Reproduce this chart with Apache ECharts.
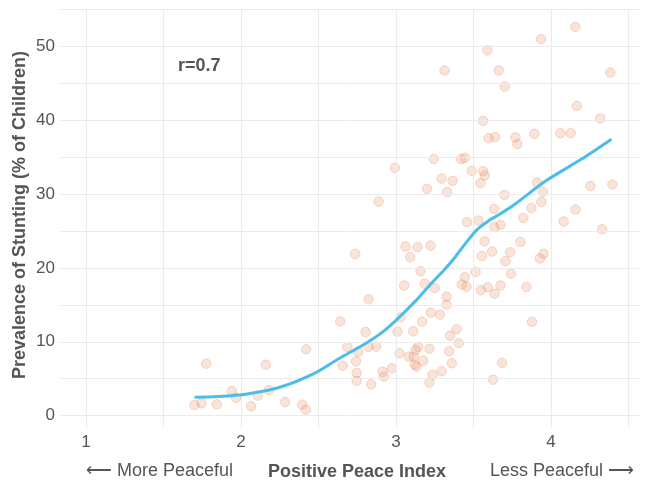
<!DOCTYPE html>
<html lang="en">
<head>
    <meta charset="UTF-8">
    <title>Positive Peace vs Stunting</title>
    <script src="https://cdn.jsdelivr.net/npm/echarts@6/dist/echarts.min.js"></script>
    <style>
        html, body { margin: 0; padding: 0; background: #fff; }
        #chart { width: 648px; height: 485px; }
    </style>
</head>
<body>
    <div id="chart"></div>
    <script>
        // country points: [Positive Peace Index, stunting %]
        var peaceIndex = [
            1.70, 1.745, 1.775, 1.844, 1.94, 1.968, 2.065, 2.108, 2.16, 2.18, 2.284, 2.394, 2.418, 2.42, 2.64,
            3.158, 3.513, 3.444, 3.425, 3.455, 3.547, 3.592, 3.053, 3.186, 3.25, 3.326, 3.326, 2.823, 3.03, 3.225,
            3.283, 3.169, 2.804, 3.01, 3.111, 3.39, 3.349, 3.405, 2.686, 2.755, 2.823, 2.872, 3.023, 3.143, 3.126,
            3.216, 3.083, 3.115, 3.175, 3.343, 3.36, 2.656, 2.742, 2.746, 2.746, 2.84, 2.914, 2.922, 2.974, 3.12,
            3.133, 3.236, 3.216, 3.294, 3.684, 3.626,
            3.062, 3.139, 3.223, 2.737, 3.092, 3.555, 3.62, 3.571, 3.803, 3.736, 3.706, 3.742, 3.841, 3.878,
            3.674, 3.637, 3.929, 3.951,
            2.993, 2.888, 3.244, 3.42, 3.444, 3.489, 3.562, 3.573, 3.545, 3.294, 3.365, 3.2, 3.33, 3.459, 3.532,
            3.313, 3.59, 3.663, 3.936, 4.157, 4.383, 3.702, 4.166, 4.318, 3.562, 3.597, 3.639, 3.771, 3.783,
            3.893, 4.06, 4.127, 3.70, 3.91, 3.948, 3.938, 3.874, 3.633, 3.822, 3.674, 3.635, 4.082, 4.159,
            4.254, 4.396, 4.331
        ];
        var stunting = [
            1.45, 1.68, 7.04, 1.54, 3.34, 2.44, 1.27, 2.71, 6.9, 3.48, 1.85, 1.49, 0.81, 8.98, 12.75,
            19.54, 19.45, 18.73, 17.73, 17.46, 16.97, 17.37, 17.6, 17.86, 17.24, 16.1, 15.02, 15.75, 13.31, 13.94,
            13.67, 12.72, 11.33, 11.37, 11.42, 11.69, 10.83, 9.8, 9.3, 8.66, 9.3, 9.34, 8.44, 9.3, 8.89,
            9.07, 7.98, 7.98, 7.44, 8.71, 7.09, 6.77, 7.36, 5.78, 4.7, 4.25, 5.95, 5.28, 6.41, 6.9,
            6.63, 5.55, 4.47, 6.01, 7.13, 4.87,
            22.87, 22.79, 23.0, 21.88, 21.43, 21.6, 22.2, 23.6, 23.5, 22.1, 20.9, 19.2, 17.4, 12.7,
            17.6, 16.5, 21.25, 21.9,
            33.52, 28.96, 34.7, 34.7, 34.87, 33.1, 33.07, 32.5, 31.45, 32.07, 31.76, 30.68, 30.23, 26.17, 26.39,
            46.69, 49.4, 46.69, 50.93, 52.6, 46.4, 44.52, 41.9, 40.2, 39.88, 37.54, 37.67, 37.62, 36.72,
            38.12, 38.21, 38.21, 29.86, 31.53, 30.3, 28.9, 28.1, 27.97, 26.75, 25.8, 25.5, 26.25, 27.88,
            31.08, 31.26, 25.22
        ];

        // smoothed trend line
        var fitX = [1.70, 1.85, 2.04, 2.25, 2.47, 2.63, 2.79, 2.90, 3.00, 3.13, 3.22, 3.31, 3.38, 3.43, 3.52, 3.60, 3.65, 3.76, 3.97, 4.19, 4.39];
        var fitY = [2.5, 2.6, 2.95, 3.85, 5.7, 7.7, 9.6, 11.1, 12.9, 15.6, 17.7, 19.7, 21.4, 22.8, 25.1, 26.4, 27.0, 28.5, 31.8, 34.6, 37.4];

        var xTicks = [1, 2, 3, 4];
        var yTicks = [0, 10, 20, 30, 40, 50];
        var xGrid = [1, 1.5, 2, 2.5, 3, 3.5, 4, 4.5];
        var yGrid = [0, 5, 10, 15, 20, 25, 30, 35, 40, 45, 50, 55];

        var points = peaceIndex.map(function (x, i) { return [x, stunting[i]]; });
        var fit = fitX.map(function (x, i) { return [x, fitY[i]]; });

        var gridLines = xGrid.map(function (v) { return { xAxis: v }; })
            .concat(yGrid.map(function (v) { return { yAxis: v }; }));

        var font = '"Liberation Sans", Arial, sans-serif';
        var textColor = '#555';

        var chart = echarts.init(document.getElementById('chart'));
        chart.setOption({
            animation: false,
            grid: { left: 60, right: 9, top: 9, bottom: 57 },
            xAxis: {
                type: 'value',
                min: 0.832,
                max: 4.568,
                axisLine: { show: false },
                axisTick: { show: false },
                splitLine: { show: false },
                axisLabel: {
                    customValues: xTicks,
                    color: textColor,
                    fontSize: 17,
                    fontFamily: font,
                    margin: 6
                }
            },
            yAxis: {
                type: 'value',
                min: -1.66,
                max: 55,
                axisLine: { show: false },
                axisTick: { show: false },
                splitLine: { show: false },
                axisLabel: {
                    customValues: yTicks,
                    color: textColor,
                    fontSize: 17,
                    fontFamily: font,
                    margin: 5
                }
            },
            series: [{
                // background grid
                type: 'scatter',
                data: [],
                z: 1,
                silent: true,
                markLine: {
                    silent: true,
                    symbol: ['none', 'none'],
                    label: { show: false },
                    lineStyle: { color: '#ebebeb', width: 1, type: 'solid' },
                    emphasis: { disabled: true },
                    data: gridLines
                }
            }, {
                type: 'scatter',
                data: points,
                z: 3,
                symbolSize: 9.5,
                itemStyle: {
                    color: 'rgba(228,136,88,0.28)',
                    borderColor: 'rgba(228,136,88,0.38)',
                    borderWidth: 1
                }
            }, {
                type: 'line',
                data: fit,
                z: 10,
                smooth: 0.3,
                showSymbol: false,
                symbol: 'none',
                silent: true,
                lineStyle: { color: '#4bbde6', width: 3 }
            }],
            graphic: [{
                type: 'text',
                left: 178,
                top: 57,
                style: { text: 'r=0.7', font: 'bold 18px ' + font, fill: '#555' }
            }, {
                type: 'text',
                x: 20,
                y: 215,
                rotation: Math.PI / 2,
                style: {
                    text: 'Prevalence of Stunting (% of Children)',
                    font: 'bold 18px ' + font,
                    fill: '#555',
                    align: 'center',
                    verticalAlign: 'middle'
                }
            }, {
                type: 'text',
                x: 86,
                y: 471,
                style: { text: '⟵ More Peaceful', font: '18px ' + font, fill: '#555', verticalAlign: 'middle' }
            }, {
                type: 'text',
                x: 357,
                y: 472,
                style: { text: 'Positive Peace Index', font: 'bold 18px ' + font, fill: '#555', align: 'center', verticalAlign: 'middle' }
            }, {
                type: 'text',
                x: 634,
                y: 471,
                style: { text: 'Less Peaceful ⟶', font: '18px ' + font, fill: '#555', align: 'right', verticalAlign: 'middle' }
            }]
        });
    </script>
</body>
</html>
